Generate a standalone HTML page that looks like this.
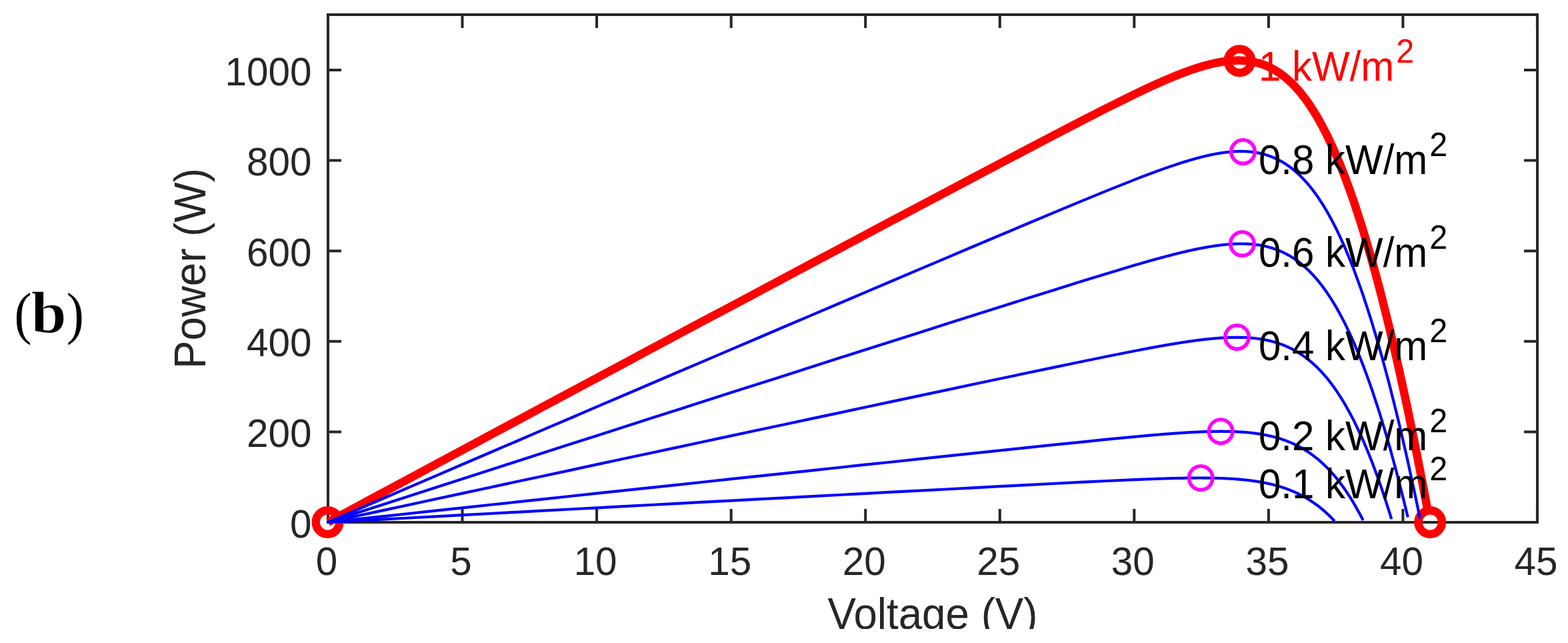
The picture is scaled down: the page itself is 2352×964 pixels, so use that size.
<!DOCTYPE html><html><head><meta charset="utf-8"><title>PV power curves</title><style>
html,body{margin:0;padding:0;background:#fff;overflow:hidden;}svg{display:block;}
.t{font-family:"Liberation Sans",Arial,Helvetica,sans-serif;}
</style></head><body>
<svg width="2352" height="964" viewBox="0 0 2352 964"><defs><clipPath id="clipb"><rect x="0" y="0" width="2352" height="943"/></clipPath></defs>
<rect x="0" y="0" width="2352" height="964" fill="#fff"/>
<g font-family="'Liberation Serif','Times New Roman',serif" fill="#000">
<text transform="translate(21.5,498.5) scale(0.9,1)" font-size="87">(</text>
<text transform="translate(46.5,498.7) scale(1.09,1)" font-size="88" font-weight="bold" stroke="#fff" stroke-width="1.1">b</text>
<text transform="translate(99.8,498.5) scale(0.9,1)" font-size="87">)</text>
</g>
<g stroke="#262626" stroke-width="4" fill="none" stroke-linecap="butt">
<path d="M492,22 L2306,22 L2306,783 L492,783 Z" stroke-linejoin="miter"/>
<path d="M492.0,783 V763 M492.0,22 V42"/>
<path d="M693.5,783 V763 M693.5,22 V42"/>
<path d="M895.1,783 V763 M895.1,22 V42"/>
<path d="M1096.7,783 V763 M1096.7,22 V42"/>
<path d="M1298.2,783 V763 M1298.2,22 V42"/>
<path d="M1499.8,783 V763 M1499.8,22 V42"/>
<path d="M1701.3,783 V763 M1701.3,22 V42"/>
<path d="M1902.9,783 V763 M1902.9,22 V42"/>
<path d="M2104.4,783 V763 M2104.4,22 V42"/>
<path d="M2305.9,783 V763 M2305.9,22 V42"/>
<path d="M492,783.0 H512 M2306,783.0 H2286"/>
<path d="M492,647.4 H512 M2306,647.4 H2286"/>
<path d="M492,511.8 H512 M2306,511.8 H2286"/>
<path d="M492,376.2 H512 M2306,376.2 H2286"/>
<path d="M492,240.6 H512 M2306,240.6 H2286"/>
<path d="M492,105.0 H512 M2306,105.0 H2286"/>
</g>
<path d="M492.0,783.0 L532.3,761.3 L572.6,739.6 L612.9,717.9 L653.2,696.3 L693.5,674.7 L733.9,653.0 L774.2,631.4 L814.5,609.8 L854.8,588.3 L895.1,566.7 L935.4,545.2 L975.7,523.6 L1016.0,502.1 L1056.3,480.6 L1096.7,459.2 L1137.0,437.7 L1177.3,416.2 L1217.6,394.8 L1257.9,373.4 L1298.2,352.0 L1338.5,330.6 L1378.8,309.3 L1419.1,287.9 L1459.4,266.6 L1499.8,245.3 L1540.1,224.1 L1580.4,203.0 L1620.7,182.1 L1661.0,161.5 L1701.3,141.6 L1709.4,137.7 L1710.2,137.3 L1711.0,137.0 L1711.7,136.6 L1712.5,136.2 L1713.3,135.8 L1714.1,135.4 L1714.9,135.1 L1715.7,134.7 L1716.5,134.3 L1717.3,134.0 L1718.1,133.6 L1718.9,133.2 L1719.7,132.8 L1720.5,132.5 L1721.3,132.1 L1722.1,131.7 L1722.9,131.4 L1723.7,131.0 L1724.4,130.6 L1725.2,130.3 L1726.0,129.9 L1726.8,129.5 L1727.6,129.2 L1728.4,128.8 L1729.2,128.4 L1730.0,128.1 L1730.8,127.7 L1731.6,127.4 L1732.4,127.0 L1733.2,126.6 L1734.0,126.3 L1734.8,125.9 L1735.6,125.6 L1736.4,125.2 L1737.2,124.9 L1737.9,124.5 L1738.7,124.2 L1739.5,123.8 L1740.3,123.5 L1741.1,123.1 L1741.9,122.8 L1742.7,122.4 L1743.5,122.1 L1744.3,121.7 L1745.1,121.4 L1745.9,121.0 L1746.7,120.7 L1747.5,120.3 L1748.3,120.0 L1749.1,119.7 L1749.9,119.3 L1750.7,119.0 L1751.4,118.6 L1752.2,118.3 L1753.0,118.0 L1753.8,117.6 L1754.6,117.3 L1755.4,117.0 L1756.2,116.6 L1757.0,116.3 L1757.8,116.0 L1758.6,115.6 L1759.4,115.3 L1760.2,115.0 L1761.0,114.7 L1761.8,114.3 L1762.6,114.0 L1763.4,113.7 L1764.2,113.4 L1764.9,113.1 L1765.7,112.7 L1766.5,112.4 L1767.3,112.1 L1768.1,111.8 L1768.9,111.5 L1769.7,111.2 L1770.5,110.9 L1771.3,110.6 L1772.1,110.3 L1772.9,109.9 L1773.7,109.6 L1774.5,109.3 L1775.3,109.0 L1776.1,108.7 L1776.9,108.4 L1777.7,108.1 L1778.4,107.9 L1779.2,107.6 L1780.0,107.3 L1780.8,107.0 L1781.6,106.7 L1782.4,106.4 L1783.2,106.1 L1784.0,105.8 L1784.8,105.6 L1785.6,105.3 L1786.4,105.0 L1787.2,104.7 L1788.0,104.5 L1788.8,104.2 L1789.6,103.9 L1790.4,103.6 L1791.2,103.4 L1791.9,103.1 L1792.7,102.8 L1793.5,102.6 L1794.3,102.3 L1795.1,102.1 L1795.9,101.8 L1796.7,101.6 L1797.5,101.3 L1798.3,101.1 L1799.1,100.8 L1799.9,100.6 L1800.7,100.3 L1801.5,100.1 L1802.3,99.9 L1803.1,99.6 L1803.9,99.4 L1804.7,99.2 L1805.4,98.9 L1806.2,98.7 L1807.0,98.5 L1807.8,98.3 L1808.6,98.0 L1809.4,97.8 L1810.2,97.6 L1811.0,97.4 L1811.8,97.2 L1812.6,97.0 L1813.4,96.8 L1814.2,96.6 L1815.0,96.4 L1815.8,96.2 L1816.6,96.0 L1817.4,95.8 L1818.2,95.6 L1818.9,95.4 L1819.7,95.2 L1820.5,95.1 L1821.3,94.9 L1822.1,94.7 L1822.9,94.5 L1823.7,94.4 L1824.5,94.2 L1825.3,94.1 L1826.1,93.9 L1826.9,93.7 L1827.7,93.6 L1828.5,93.4 L1829.3,93.3 L1830.1,93.2 L1830.9,93.0 L1831.7,92.9 L1832.4,92.8 L1833.2,92.6 L1834.0,92.5 L1834.8,92.4 L1835.6,92.3 L1836.4,92.2 L1837.2,92.0 L1838.0,91.9 L1838.8,91.8 L1839.6,91.7 L1840.4,91.6 L1841.2,91.6 L1842.0,91.5 L1842.8,91.4 L1843.6,91.3 L1844.4,91.2 L1845.2,91.2 L1845.9,91.1 L1846.7,91.0 L1847.5,91.0 L1848.3,90.9 L1849.1,90.9 L1849.9,90.8 L1850.7,90.8 L1851.5,90.8 L1852.3,90.7 L1853.1,90.7 L1853.9,90.7 L1854.7,90.7 L1855.5,90.6 L1856.3,90.6 L1857.1,90.6 L1857.9,90.6 L1858.7,90.6 L1859.4,90.6 L1860.2,90.7 L1861.0,90.7 L1861.8,90.7 L1862.6,90.7 L1863.4,90.8 L1864.2,90.8 L1865.0,90.9 L1865.8,90.9 L1866.6,91.0 L1867.4,91.0 L1868.2,91.1 L1869.0,91.2 L1869.8,91.2 L1870.6,91.3 L1871.4,91.4 L1872.1,91.5 L1872.9,91.6 L1873.7,91.7 L1874.5,91.8 L1875.3,92.0 L1876.1,92.1 L1876.9,92.2 L1877.7,92.3 L1878.5,92.5 L1879.3,92.6 L1880.1,92.8 L1880.9,93.0 L1881.7,93.1 L1882.5,93.3 L1883.3,93.5 L1884.1,93.7 L1884.9,93.9 L1885.6,94.1 L1886.4,94.3 L1887.2,94.5 L1888.0,94.7 L1888.8,94.9 L1889.6,95.2 L1890.4,95.4 L1891.2,95.7 L1892.0,95.9 L1892.8,96.2 L1893.6,96.5 L1894.4,96.7 L1895.2,97.0 L1896.0,97.3 L1896.8,97.6 L1897.6,97.9 L1898.4,98.2 L1899.1,98.6 L1899.9,98.9 L1900.7,99.2 L1901.5,99.6 L1902.3,99.9 L1903.1,100.3 L1903.9,100.7 L1904.7,101.1 L1905.5,101.4 L1906.3,101.8 L1907.1,102.2 L1907.9,102.7 L1908.7,103.1 L1909.5,103.5 L1910.3,103.9 L1911.1,104.4 L1911.9,104.8 L1912.6,105.3 L1913.4,105.8 L1914.2,106.3 L1915.0,106.8 L1915.8,107.3 L1916.6,107.8 L1917.4,108.3 L1918.2,108.8 L1919.0,109.3 L1919.8,109.9 L1920.6,110.4 L1921.4,111.0 L1922.2,111.6 L1923.0,112.2 L1923.8,112.8 L1924.6,113.4 L1925.4,114.0 L1926.1,114.6 L1926.9,115.2 L1927.7,115.9 L1928.5,116.5 L1929.3,117.2 L1930.1,117.9 L1930.9,118.5 L1931.7,119.2 L1932.5,119.9 L1933.3,120.6 L1934.1,121.4 L1934.9,122.1 L1935.7,122.8 L1936.5,123.6 L1937.3,124.4 L1938.1,125.1 L1938.9,125.9 L1939.6,126.7 L1940.4,127.5 L1941.2,128.4 L1942.0,129.2 L1942.8,130.0 L1943.6,130.9 L1944.4,131.8 L1945.2,132.6 L1946.0,133.5 L1946.8,134.4 L1947.6,135.3 L1948.4,136.2 L1949.2,137.2 L1950.0,138.1 L1950.8,139.1 L1951.6,140.0 L1952.4,141.0 L1953.1,142.0 L1953.9,143.0 L1954.7,144.0 L1955.5,145.1 L1956.3,146.1 L1957.1,147.2 L1957.9,148.2 L1958.7,149.3 L1959.5,150.4 L1960.3,151.5 L1961.1,152.6 L1961.9,153.7 L1962.7,154.9 L1963.5,156.0 L1964.3,157.2 L1965.1,158.3 L1965.9,159.5 L1966.6,160.7 L1967.4,161.9 L1968.2,163.2 L1969.0,164.4 L1969.8,165.7 L1970.6,166.9 L1971.4,168.2 L1972.2,169.5 L1973.0,170.8 L1973.8,172.1 L1974.6,173.4 L1975.4,174.8 L1976.2,176.1 L1977.0,177.5 L1977.8,178.9 L1978.6,180.3 L1979.4,181.7 L1980.1,183.1 L1980.9,184.5 L1981.7,186.0 L1982.5,187.4 L1983.3,188.9 L1984.1,190.4 L1984.9,191.9 L1985.7,193.4 L1986.5,195.0 L1987.3,196.5 L1988.1,198.1 L1988.9,199.6 L1989.7,201.2 L1990.5,202.8 L1991.3,204.4 L1992.1,206.1 L1992.9,207.7 L1993.6,209.3 L1994.4,211.0 L1995.2,212.7 L1996.0,214.4 L1996.8,216.1 L1997.6,217.8 L1998.4,219.6 L1999.2,221.3 L2000.0,223.1 L2000.8,224.9 L2001.6,226.7 L2002.4,228.5 L2003.2,230.3 L2004.0,232.1 L2004.8,234.0 L2005.6,235.8 L2006.4,237.7 L2007.1,239.6 L2007.9,241.5 L2008.7,243.4 L2009.5,245.4 L2010.3,247.3 L2011.1,249.3 L2011.9,251.3 L2012.7,253.3 L2013.5,255.3 L2014.3,257.3 L2015.1,259.3 L2015.9,261.4 L2016.7,263.5 L2017.5,265.5 L2018.3,267.6 L2019.1,269.7 L2019.8,271.9 L2020.6,274.0 L2021.4,276.2 L2022.2,278.3 L2023.0,280.5 L2023.8,282.7 L2024.6,284.9 L2025.4,287.1 L2026.2,289.4 L2027.0,291.6 L2027.8,293.9 L2028.6,296.2 L2029.4,298.5 L2030.2,300.8 L2031.0,303.1 L2031.8,305.5 L2032.6,307.8 L2033.3,310.2 L2034.1,312.6 L2034.9,315.0 L2035.7,317.4 L2036.5,319.8 L2037.3,322.3 L2038.1,324.7 L2038.9,327.2 L2039.7,329.7 L2040.5,332.2 L2041.3,334.7 L2042.1,337.3 L2042.9,339.8 L2043.7,342.4 L2044.5,344.9 L2045.3,347.5 L2046.1,350.1 L2046.8,352.8 L2047.6,355.4 L2048.4,358.0 L2049.2,360.7 L2050.0,363.4 L2050.8,366.1 L2051.6,368.8 L2052.4,371.5 L2053.2,374.2 L2054.0,377.0 L2054.8,379.8 L2055.6,382.5 L2056.4,385.3 L2057.2,388.1 L2058.0,391.0 L2058.8,393.8 L2059.6,396.7 L2060.3,399.5 L2061.1,402.4 L2061.9,405.3 L2062.7,408.2 L2063.5,411.1 L2064.3,414.1 L2065.1,417.0 L2065.9,420.0 L2066.7,423.0 L2067.5,426.0 L2068.3,429.0 L2069.1,432.0 L2069.9,435.0 L2070.7,438.1 L2071.5,441.1 L2072.3,444.2 L2073.1,447.3 L2073.8,450.4 L2074.6,453.5 L2075.4,456.7 L2076.2,459.8 L2077.0,463.0 L2077.8,466.2 L2078.6,469.4 L2079.4,472.6 L2080.2,475.8 L2081.0,479.0 L2081.8,482.3 L2082.6,485.5 L2083.4,488.8 L2084.2,492.1 L2085.0,495.4 L2085.8,498.7 L2086.6,502.1 L2087.3,505.4 L2088.1,508.8 L2088.9,512.1 L2089.7,515.5 L2090.5,518.9 L2091.3,522.3 L2092.1,525.8 L2092.9,529.2 L2093.7,532.7 L2094.5,536.1 L2095.3,539.6 L2096.1,543.1 L2096.9,546.6 L2097.7,550.2 L2098.5,553.7 L2099.3,557.3 L2100.1,560.8 L2100.8,564.4 L2101.6,568.0 L2102.4,571.6 L2103.2,575.2 L2104.0,578.8 L2104.8,582.5 L2105.6,586.2 L2106.4,589.8 L2107.2,593.5 L2108.0,597.2 L2108.8,600.9 L2109.6,604.6 L2110.4,608.4 L2111.2,612.1 L2112.0,615.9 L2112.8,619.7 L2113.6,623.5 L2114.3,627.3 L2115.1,631.1 L2115.9,634.9 L2116.7,638.8 L2117.5,642.6 L2118.3,646.5 L2119.1,650.4 L2119.9,654.3 L2120.7,658.2 L2121.5,662.1 L2122.3,666.1 L2123.1,670.0 L2123.9,674.0 L2124.7,677.9 L2125.5,681.9 L2126.3,685.9 L2127.1,689.9 L2127.8,694.0 L2128.6,698.0 L2129.4,702.0 L2130.2,706.1 L2131.0,710.2 L2131.8,714.3 L2132.6,718.4 L2133.4,722.5 L2134.2,726.6 L2135.0,730.8 L2135.8,734.9 L2136.6,739.1 L2137.4,743.3 L2138.2,747.4 L2139.0,751.6 L2139.8,755.9 L2140.6,760.1 L2141.3,764.3 L2141.5,765.0" fill="none" stroke="#ff0000" stroke-width="12.5" stroke-linejoin="round"/>
<circle cx="491.5" cy="783" r="17.75" fill="none" stroke="#ff0000" stroke-width="12.5"/>
<circle cx="1859.5" cy="91.3" r="17.75" fill="none" stroke="#ff0000" stroke-width="12.5"/>
<circle cx="2145.2" cy="783" r="17.75" fill="none" stroke="#ff0000" stroke-width="12.5"/>
<path d="M492.0,783.0 L532.3,765.6 L572.6,748.3 L612.9,730.9 L653.2,713.6 L693.5,696.3 L733.9,679.0 L774.2,661.7 L814.5,644.4 L854.8,627.2 L895.1,609.9 L935.4,592.7 L975.7,575.5 L1016.0,558.3 L1056.3,541.1 L1096.7,523.9 L1137.0,506.7 L1177.3,489.5 L1217.6,472.4 L1257.9,455.3 L1298.2,438.1 L1338.5,421.0 L1378.8,403.9 L1419.1,386.9 L1459.4,369.8 L1499.8,352.8 L1540.1,335.8 L1580.4,318.9 L1620.7,302.1 L1661.0,285.6 L1701.3,269.6 L1709.4,266.4 L1710.2,266.1 L1711.0,265.8 L1711.7,265.5 L1712.5,265.2 L1713.3,264.9 L1714.1,264.6 L1714.9,264.3 L1715.7,264.0 L1716.5,263.7 L1717.3,263.4 L1718.1,263.1 L1718.9,262.8 L1719.7,262.5 L1720.5,262.2 L1721.3,261.9 L1722.1,261.6 L1722.9,261.3 L1723.7,261.0 L1724.4,260.7 L1725.2,260.4 L1726.0,260.1 L1726.8,259.8 L1727.6,259.5 L1728.4,259.2 L1729.2,259.0 L1730.0,258.7 L1730.8,258.4 L1731.6,258.1 L1732.4,257.8 L1733.2,257.5 L1734.0,257.2 L1734.8,256.9 L1735.6,256.6 L1736.4,256.3 L1737.2,256.0 L1737.9,255.8 L1738.7,255.5 L1739.5,255.2 L1740.3,254.9 L1741.1,254.6 L1741.9,254.3 L1742.7,254.0 L1743.5,253.8 L1744.3,253.5 L1745.1,253.2 L1745.9,252.9 L1746.7,252.6 L1747.5,252.4 L1748.3,252.1 L1749.1,251.8 L1749.9,251.5 L1750.7,251.2 L1751.4,251.0 L1752.2,250.7 L1753.0,250.4 L1753.8,250.1 L1754.6,249.9 L1755.4,249.6 L1756.2,249.3 L1757.0,249.1 L1757.8,248.8 L1758.6,248.5 L1759.4,248.3 L1760.2,248.0 L1761.0,247.7 L1761.8,247.5 L1762.6,247.2 L1763.4,246.9 L1764.2,246.7 L1764.9,246.4 L1765.7,246.1 L1766.5,245.9 L1767.3,245.6 L1768.1,245.4 L1768.9,245.1 L1769.7,244.9 L1770.5,244.6 L1771.3,244.3 L1772.1,244.1 L1772.9,243.8 L1773.7,243.6 L1774.5,243.3 L1775.3,243.1 L1776.1,242.8 L1776.9,242.6 L1777.7,242.4 L1778.4,242.1 L1779.2,241.9 L1780.0,241.6 L1780.8,241.4 L1781.6,241.1 L1782.4,240.9 L1783.2,240.7 L1784.0,240.4 L1784.8,240.2 L1785.6,240.0 L1786.4,239.7 L1787.2,239.5 L1788.0,239.3 L1788.8,239.1 L1789.6,238.8 L1790.4,238.6 L1791.2,238.4 L1791.9,238.2 L1792.7,237.9 L1793.5,237.7 L1794.3,237.5 L1795.1,237.3 L1795.9,237.1 L1796.7,236.9 L1797.5,236.7 L1798.3,236.4 L1799.1,236.2 L1799.9,236.0 L1800.7,235.8 L1801.5,235.6 L1802.3,235.4 L1803.1,235.2 L1803.9,235.0 L1804.7,234.8 L1805.4,234.6 L1806.2,234.4 L1807.0,234.2 L1807.8,234.1 L1808.6,233.9 L1809.4,233.7 L1810.2,233.5 L1811.0,233.3 L1811.8,233.1 L1812.6,233.0 L1813.4,232.8 L1814.2,232.6 L1815.0,232.4 L1815.8,232.3 L1816.6,232.1 L1817.4,231.9 L1818.2,231.8 L1818.9,231.6 L1819.7,231.5 L1820.5,231.3 L1821.3,231.1 L1822.1,231.0 L1822.9,230.8 L1823.7,230.7 L1824.5,230.5 L1825.3,230.4 L1826.1,230.3 L1826.9,230.1 L1827.7,230.0 L1828.5,229.9 L1829.3,229.7 L1830.1,229.6 L1830.9,229.5 L1831.7,229.3 L1832.4,229.2 L1833.2,229.1 L1834.0,229.0 L1834.8,228.9 L1835.6,228.8 L1836.4,228.7 L1837.2,228.6 L1838.0,228.5 L1838.8,228.4 L1839.6,228.3 L1840.4,228.2 L1841.2,228.1 L1842.0,228.0 L1842.8,227.9 L1843.6,227.8 L1844.4,227.7 L1845.2,227.7 L1845.9,227.6 L1846.7,227.5 L1847.5,227.5 L1848.3,227.4 L1849.1,227.4 L1849.9,227.3 L1850.7,227.2 L1851.5,227.2 L1852.3,227.2 L1853.1,227.1 L1853.9,227.1 L1854.7,227.0 L1855.5,227.0 L1856.3,227.0 L1857.1,227.0 L1857.9,226.9 L1858.7,226.9 L1859.4,226.9 L1860.2,226.9 L1861.0,226.9 L1861.8,226.9 L1862.6,226.9 L1863.4,226.9 L1864.2,226.9 L1865.0,226.9 L1865.8,227.0 L1866.6,227.0 L1867.4,227.0 L1868.2,227.0 L1869.0,227.1 L1869.8,227.1 L1870.6,227.2 L1871.4,227.2 L1872.1,227.3 L1872.9,227.3 L1873.7,227.4 L1874.5,227.5 L1875.3,227.5 L1876.1,227.6 L1876.9,227.7 L1877.7,227.8 L1878.5,227.9 L1879.3,228.0 L1880.1,228.1 L1880.9,228.2 L1881.7,228.3 L1882.5,228.4 L1883.3,228.5 L1884.1,228.7 L1884.9,228.8 L1885.6,228.9 L1886.4,229.1 L1887.2,229.2 L1888.0,229.4 L1888.8,229.6 L1889.6,229.7 L1890.4,229.9 L1891.2,230.1 L1892.0,230.3 L1892.8,230.4 L1893.6,230.6 L1894.4,230.8 L1895.2,231.1 L1896.0,231.3 L1896.8,231.5 L1897.6,231.7 L1898.4,231.9 L1899.1,232.2 L1899.9,232.4 L1900.7,232.7 L1901.5,232.9 L1902.3,233.2 L1903.1,233.5 L1903.9,233.7 L1904.7,234.0 L1905.5,234.3 L1906.3,234.6 L1907.1,234.9 L1907.9,235.2 L1908.7,235.5 L1909.5,235.9 L1910.3,236.2 L1911.1,236.5 L1911.9,236.9 L1912.6,237.2 L1913.4,237.6 L1914.2,238.0 L1915.0,238.3 L1915.8,238.7 L1916.6,239.1 L1917.4,239.5 L1918.2,239.9 L1919.0,240.3 L1919.8,240.8 L1920.6,241.2 L1921.4,241.6 L1922.2,242.1 L1923.0,242.5 L1923.8,243.0 L1924.6,243.5 L1925.4,243.9 L1926.1,244.4 L1926.9,244.9 L1927.7,245.4 L1928.5,245.9 L1929.3,246.5 L1930.1,247.0 L1930.9,247.5 L1931.7,248.1 L1932.5,248.6 L1933.3,249.2 L1934.1,249.8 L1934.9,250.3 L1935.7,250.9 L1936.5,251.5 L1937.3,252.1 L1938.1,252.8 L1938.9,253.4 L1939.6,254.0 L1940.4,254.7 L1941.2,255.3 L1942.0,256.0 L1942.8,256.7 L1943.6,257.4 L1944.4,258.1 L1945.2,258.8 L1946.0,259.5 L1946.8,260.2 L1947.6,260.9 L1948.4,261.7 L1949.2,262.4 L1950.0,263.2 L1950.8,264.0 L1951.6,264.8 L1952.4,265.6 L1953.1,266.4 L1953.9,267.2 L1954.7,268.0 L1955.5,268.9 L1956.3,269.7 L1957.1,270.6 L1957.9,271.4 L1958.7,272.3 L1959.5,273.2 L1960.3,274.1 L1961.1,275.0 L1961.9,276.0 L1962.7,276.9 L1963.5,277.8 L1964.3,278.8 L1965.1,279.8 L1965.9,280.8 L1966.6,281.8 L1967.4,282.8 L1968.2,283.8 L1969.0,284.8 L1969.8,285.8 L1970.6,286.9 L1971.4,288.0 L1972.2,289.0 L1973.0,290.1 L1973.8,291.2 L1974.6,292.3 L1975.4,293.5 L1976.2,294.6 L1977.0,295.7 L1977.8,296.9 L1978.6,298.1 L1979.4,299.3 L1980.1,300.5 L1980.9,301.7 L1981.7,302.9 L1982.5,304.1 L1983.3,305.4 L1984.1,306.6 L1984.9,307.9 L1985.7,309.2 L1986.5,310.5 L1987.3,311.8 L1988.1,313.1 L1988.9,314.5 L1989.7,315.8 L1990.5,317.2 L1991.3,318.6 L1992.1,320.0 L1992.9,321.4 L1993.6,322.8 L1994.4,324.2 L1995.2,325.6 L1996.0,327.1 L1996.8,328.6 L1997.6,330.0 L1998.4,331.5 L1999.2,333.1 L2000.0,334.6 L2000.8,336.1 L2001.6,337.7 L2002.4,339.2 L2003.2,340.8 L2004.0,342.4 L2004.8,344.0 L2005.6,345.6 L2006.4,347.2 L2007.1,348.9 L2007.9,350.5 L2008.7,352.2 L2009.5,353.9 L2010.3,355.6 L2011.1,357.3 L2011.9,359.1 L2012.7,360.8 L2013.5,362.6 L2014.3,364.3 L2015.1,366.1 L2015.9,367.9 L2016.7,369.7 L2017.5,371.6 L2018.3,373.4 L2019.1,375.3 L2019.8,377.1 L2020.6,379.0 L2021.4,380.9 L2022.2,382.8 L2023.0,384.7 L2023.8,386.7 L2024.6,388.6 L2025.4,390.6 L2026.2,392.6 L2027.0,394.6 L2027.8,396.6 L2028.6,398.6 L2029.4,400.7 L2030.2,402.7 L2031.0,404.8 L2031.8,406.9 L2032.6,409.0 L2033.3,411.1 L2034.1,413.3 L2034.9,415.4 L2035.7,417.6 L2036.5,419.7 L2037.3,421.9 L2038.1,424.1 L2038.9,426.3 L2039.7,428.6 L2040.5,430.8 L2041.3,433.1 L2042.1,435.4 L2042.9,437.7 L2043.7,440.0 L2044.5,442.3 L2045.3,444.6 L2046.1,447.0 L2046.8,449.3 L2047.6,451.7 L2048.4,454.1 L2049.2,456.5 L2050.0,458.9 L2050.8,461.4 L2051.6,463.8 L2052.4,466.3 L2053.2,468.8 L2054.0,471.3 L2054.8,473.8 L2055.6,476.3 L2056.4,478.9 L2057.2,481.4 L2058.0,484.0 L2058.8,486.6 L2059.6,489.2 L2060.3,491.8 L2061.1,494.4 L2061.9,497.1 L2062.7,499.7 L2063.5,502.4 L2064.3,505.1 L2065.1,507.8 L2065.9,510.5 L2066.7,513.3 L2067.5,516.0 L2068.3,518.8 L2069.1,521.6 L2069.9,524.3 L2070.7,527.1 L2071.5,530.0 L2072.3,532.8 L2073.1,535.7 L2073.8,538.5 L2074.6,541.4 L2075.4,544.3 L2076.2,547.2 L2077.0,550.1 L2077.8,553.1 L2078.6,556.0 L2079.4,559.0 L2080.2,562.0 L2081.0,565.0 L2081.8,568.0 L2082.6,571.0 L2083.4,574.0 L2084.2,577.1 L2085.0,580.2 L2085.8,583.3 L2086.6,586.4 L2087.3,589.5 L2088.1,592.6 L2088.9,595.7 L2089.7,598.9 L2090.5,602.1 L2091.3,605.2 L2092.1,608.4 L2092.9,611.7 L2093.7,614.9 L2094.5,618.1 L2095.3,621.4 L2096.1,624.7 L2096.9,627.9 L2097.7,631.2 L2098.5,634.5 L2099.3,637.9 L2100.1,641.2 L2100.8,644.6 L2101.6,647.9 L2102.4,651.3 L2103.2,654.7 L2104.0,658.1 L2104.8,661.6 L2105.6,665.0 L2106.4,668.5 L2107.2,671.9 L2108.0,675.4 L2108.8,678.9 L2109.6,682.4 L2110.4,685.9 L2111.2,689.5 L2112.0,693.0 L2112.8,696.6 L2113.6,700.2 L2114.3,703.8 L2115.1,707.4 L2115.9,711.0 L2116.7,714.6 L2117.5,718.3 L2118.3,721.9 L2119.1,725.6 L2119.9,729.3 L2120.7,733.0 L2121.5,736.7 L2122.3,740.4 L2123.1,744.2 L2123.9,747.9 L2124.7,751.7 L2125.5,755.5 L2126.3,759.3 L2127.1,763.1 L2127.8,766.9 L2128.6,770.8 L2129.4,774.6 L2130.0,777.3" fill="none" stroke="#0000ff" stroke-width="4.2" stroke-linejoin="round"/>
<path d="M492.0,783.0 L532.3,770.0 L572.6,757.0 L612.9,744.0 L653.2,731.0 L693.5,718.0 L733.9,705.0 L774.2,692.0 L814.5,679.1 L854.8,666.1 L895.1,653.2 L935.4,640.2 L975.7,627.3 L1016.0,614.4 L1056.3,601.5 L1096.7,588.6 L1137.0,575.7 L1177.3,562.9 L1217.6,550.0 L1257.9,537.1 L1298.2,524.3 L1338.5,511.5 L1378.8,498.7 L1419.1,485.8 L1459.4,473.0 L1499.8,460.3 L1540.1,447.5 L1580.4,434.9 L1620.7,422.3 L1661.0,409.9 L1701.3,397.8 L1709.4,395.5 L1710.2,395.2 L1711.0,395.0 L1711.7,394.8 L1712.5,394.5 L1713.3,394.3 L1714.1,394.1 L1714.9,393.9 L1715.7,393.6 L1716.5,393.4 L1717.3,393.2 L1718.1,393.0 L1718.9,392.7 L1719.7,392.5 L1720.5,392.3 L1721.3,392.0 L1722.1,391.8 L1722.9,391.6 L1723.7,391.4 L1724.4,391.2 L1725.2,390.9 L1726.0,390.7 L1726.8,390.5 L1727.6,390.3 L1728.4,390.0 L1729.2,389.8 L1730.0,389.6 L1730.8,389.4 L1731.6,389.2 L1732.4,388.9 L1733.2,388.7 L1734.0,388.5 L1734.8,388.3 L1735.6,388.1 L1736.4,387.8 L1737.2,387.6 L1737.9,387.4 L1738.7,387.2 L1739.5,387.0 L1740.3,386.8 L1741.1,386.5 L1741.9,386.3 L1742.7,386.1 L1743.5,385.9 L1744.3,385.7 L1745.1,385.5 L1745.9,385.3 L1746.7,385.1 L1747.5,384.8 L1748.3,384.6 L1749.1,384.4 L1749.9,384.2 L1750.7,384.0 L1751.4,383.8 L1752.2,383.6 L1753.0,383.4 L1753.8,383.2 L1754.6,383.0 L1755.4,382.8 L1756.2,382.6 L1757.0,382.4 L1757.8,382.2 L1758.6,382.0 L1759.4,381.7 L1760.2,381.5 L1761.0,381.3 L1761.8,381.1 L1762.6,380.9 L1763.4,380.7 L1764.2,380.5 L1764.9,380.3 L1765.7,380.2 L1766.5,380.0 L1767.3,379.8 L1768.1,379.6 L1768.9,379.4 L1769.7,379.2 L1770.5,379.0 L1771.3,378.8 L1772.1,378.6 L1772.9,378.4 L1773.7,378.2 L1774.5,378.0 L1775.3,377.8 L1776.1,377.7 L1776.9,377.5 L1777.7,377.3 L1778.4,377.1 L1779.2,376.9 L1780.0,376.7 L1780.8,376.6 L1781.6,376.4 L1782.4,376.2 L1783.2,376.0 L1784.0,375.8 L1784.8,375.7 L1785.6,375.5 L1786.4,375.3 L1787.2,375.1 L1788.0,375.0 L1788.8,374.8 L1789.6,374.6 L1790.4,374.4 L1791.2,374.3 L1791.9,374.1 L1792.7,373.9 L1793.5,373.8 L1794.3,373.6 L1795.1,373.4 L1795.9,373.3 L1796.7,373.1 L1797.5,373.0 L1798.3,372.8 L1799.1,372.6 L1799.9,372.5 L1800.7,372.3 L1801.5,372.2 L1802.3,372.0 L1803.1,371.9 L1803.9,371.7 L1804.7,371.6 L1805.4,371.4 L1806.2,371.3 L1807.0,371.1 L1807.8,371.0 L1808.6,370.8 L1809.4,370.7 L1810.2,370.6 L1811.0,370.4 L1811.8,370.3 L1812.6,370.1 L1813.4,370.0 L1814.2,369.9 L1815.0,369.8 L1815.8,369.6 L1816.6,369.5 L1817.4,369.4 L1818.2,369.2 L1818.9,369.1 L1819.7,369.0 L1820.5,368.9 L1821.3,368.8 L1822.1,368.6 L1822.9,368.5 L1823.7,368.4 L1824.5,368.3 L1825.3,368.2 L1826.1,368.1 L1826.9,368.0 L1827.7,367.9 L1828.5,367.8 L1829.3,367.7 L1830.1,367.6 L1830.9,367.5 L1831.7,367.4 L1832.4,367.3 L1833.2,367.2 L1834.0,367.1 L1834.8,367.0 L1835.6,366.9 L1836.4,366.8 L1837.2,366.8 L1838.0,366.7 L1838.8,366.6 L1839.6,366.5 L1840.4,366.5 L1841.2,366.4 L1842.0,366.3 L1842.8,366.3 L1843.6,366.2 L1844.4,366.1 L1845.2,366.1 L1845.9,366.0 L1846.7,366.0 L1847.5,365.9 L1848.3,365.9 L1849.1,365.8 L1849.9,365.8 L1850.7,365.7 L1851.5,365.7 L1852.3,365.7 L1853.1,365.6 L1853.9,365.6 L1854.7,365.6 L1855.5,365.6 L1856.3,365.5 L1857.1,365.5 L1857.9,365.5 L1858.7,365.5 L1859.4,365.5 L1860.2,365.5 L1861.0,365.5 L1861.8,365.5 L1862.6,365.5 L1863.4,365.5 L1864.2,365.5 L1865.0,365.5 L1865.8,365.5 L1866.6,365.5 L1867.4,365.5 L1868.2,365.6 L1869.0,365.6 L1869.8,365.6 L1870.6,365.7 L1871.4,365.7 L1872.1,365.7 L1872.9,365.8 L1873.7,365.8 L1874.5,365.9 L1875.3,365.9 L1876.1,366.0 L1876.9,366.1 L1877.7,366.1 L1878.5,366.2 L1879.3,366.3 L1880.1,366.3 L1880.9,366.4 L1881.7,366.5 L1882.5,366.6 L1883.3,366.7 L1884.1,366.8 L1884.9,366.9 L1885.6,367.0 L1886.4,367.1 L1887.2,367.2 L1888.0,367.3 L1888.8,367.5 L1889.6,367.6 L1890.4,367.7 L1891.2,367.9 L1892.0,368.0 L1892.8,368.2 L1893.6,368.3 L1894.4,368.5 L1895.2,368.6 L1896.0,368.8 L1896.8,369.0 L1897.6,369.1 L1898.4,369.3 L1899.1,369.5 L1899.9,369.7 L1900.7,369.9 L1901.5,370.1 L1902.3,370.3 L1903.1,370.5 L1903.9,370.7 L1904.7,370.9 L1905.5,371.2 L1906.3,371.4 L1907.1,371.6 L1907.9,371.9 L1908.7,372.1 L1909.5,372.4 L1910.3,372.6 L1911.1,372.9 L1911.9,373.2 L1912.6,373.4 L1913.4,373.7 L1914.2,374.0 L1915.0,374.3 L1915.8,374.6 L1916.6,374.9 L1917.4,375.2 L1918.2,375.5 L1919.0,375.9 L1919.8,376.2 L1920.6,376.5 L1921.4,376.9 L1922.2,377.2 L1923.0,377.6 L1923.8,378.0 L1924.6,378.3 L1925.4,378.7 L1926.1,379.1 L1926.9,379.5 L1927.7,379.9 L1928.5,380.3 L1929.3,380.7 L1930.1,381.1 L1930.9,381.6 L1931.7,382.0 L1932.5,382.4 L1933.3,382.9 L1934.1,383.3 L1934.9,383.8 L1935.7,384.3 L1936.5,384.8 L1937.3,385.2 L1938.1,385.7 L1938.9,386.2 L1939.6,386.8 L1940.4,387.3 L1941.2,387.8 L1942.0,388.3 L1942.8,388.9 L1943.6,389.4 L1944.4,390.0 L1945.2,390.6 L1946.0,391.1 L1946.8,391.7 L1947.6,392.3 L1948.4,392.9 L1949.2,393.5 L1950.0,394.1 L1950.8,394.8 L1951.6,395.4 L1952.4,396.1 L1953.1,396.7 L1953.9,397.4 L1954.7,398.0 L1955.5,398.7 L1956.3,399.4 L1957.1,400.1 L1957.9,400.8 L1958.7,401.5 L1959.5,402.3 L1960.3,403.0 L1961.1,403.8 L1961.9,404.5 L1962.7,405.3 L1963.5,406.1 L1964.3,406.9 L1965.1,407.6 L1965.9,408.5 L1966.6,409.3 L1967.4,410.1 L1968.2,410.9 L1969.0,411.8 L1969.8,412.6 L1970.6,413.5 L1971.4,414.4 L1972.2,415.3 L1973.0,416.2 L1973.8,417.1 L1974.6,418.0 L1975.4,418.9 L1976.2,419.9 L1977.0,420.8 L1977.8,421.8 L1978.6,422.8 L1979.4,423.8 L1980.1,424.8 L1980.9,425.8 L1981.7,426.8 L1982.5,427.8 L1983.3,428.9 L1984.1,429.9 L1984.9,431.0 L1985.7,432.1 L1986.5,433.1 L1987.3,434.2 L1988.1,435.4 L1988.9,436.5 L1989.7,437.6 L1990.5,438.8 L1991.3,439.9 L1992.1,441.1 L1992.9,442.3 L1993.6,443.5 L1994.4,444.7 L1995.2,445.9 L1996.0,447.1 L1996.8,448.4 L1997.6,449.6 L1998.4,450.9 L1999.2,452.2 L2000.0,453.5 L2000.8,454.8 L2001.6,456.1 L2002.4,457.4 L2003.2,458.8 L2004.0,460.1 L2004.8,461.5 L2005.6,462.9 L2006.4,464.3 L2007.1,465.7 L2007.9,467.1 L2008.7,468.5 L2009.5,470.0 L2010.3,471.5 L2011.1,472.9 L2011.9,474.4 L2012.7,475.9 L2013.5,477.4 L2014.3,479.0 L2015.1,480.5 L2015.9,482.1 L2016.7,483.6 L2017.5,485.2 L2018.3,486.8 L2019.1,488.4 L2019.8,490.0 L2020.6,491.7 L2021.4,493.3 L2022.2,495.0 L2023.0,496.6 L2023.8,498.3 L2024.6,500.0 L2025.4,501.8 L2026.2,503.5 L2027.0,505.2 L2027.8,507.0 L2028.6,508.8 L2029.4,510.6 L2030.2,512.4 L2031.0,514.2 L2031.8,516.0 L2032.6,517.9 L2033.3,519.7 L2034.1,521.6 L2034.9,523.5 L2035.7,525.4 L2036.5,527.3 L2037.3,529.2 L2038.1,531.2 L2038.9,533.1 L2039.7,535.1 L2040.5,537.1 L2041.3,539.1 L2042.1,541.1 L2042.9,543.1 L2043.7,545.2 L2044.5,547.2 L2045.3,549.3 L2046.1,551.4 L2046.8,553.5 L2047.6,555.6 L2048.4,557.8 L2049.2,559.9 L2050.0,562.1 L2050.8,564.3 L2051.6,566.4 L2052.4,568.6 L2053.2,570.9 L2054.0,573.1 L2054.8,575.4 L2055.6,577.6 L2056.4,579.9 L2057.2,582.2 L2058.0,584.5 L2058.8,586.8 L2059.6,589.2 L2060.3,591.5 L2061.1,593.9 L2061.9,596.3 L2062.7,598.7 L2063.5,601.1 L2064.3,603.5 L2065.1,606.0 L2065.9,608.4 L2066.7,610.9 L2067.5,613.4 L2068.3,615.9 L2069.1,618.4 L2069.9,620.9 L2070.7,623.5 L2071.5,626.1 L2072.3,628.6 L2073.1,631.2 L2073.8,633.8 L2074.6,636.5 L2075.4,639.1 L2076.2,641.7 L2077.0,644.4 L2077.8,647.1 L2078.6,649.8 L2079.4,652.5 L2080.2,655.2 L2081.0,658.0 L2081.8,660.7 L2082.6,663.5 L2083.4,666.3 L2084.2,669.1 L2085.0,671.9 L2085.8,674.7 L2086.6,677.6 L2087.3,680.4 L2088.1,683.3 L2088.9,686.2 L2089.7,689.1 L2090.5,692.0 L2091.3,695.0 L2092.1,697.9 L2092.9,700.9 L2093.7,703.9 L2094.5,706.8 L2095.3,709.9 L2096.1,712.9 L2096.9,715.9 L2097.7,719.0 L2098.5,722.0 L2099.3,725.1 L2100.1,728.2 L2100.8,731.3 L2101.6,734.5 L2102.4,737.6 L2103.2,740.7 L2104.0,743.9 L2104.8,747.1 L2105.6,750.3 L2106.4,753.5 L2107.2,756.7 L2108.0,760.0 L2108.8,763.2 L2109.6,766.5 L2110.4,769.8 L2111.2,773.1 L2111.7,775.4" fill="none" stroke="#0000ff" stroke-width="4.2" stroke-linejoin="round"/>
<path d="M492.0,783.0 L532.3,774.3 L572.6,765.6 L612.9,757.0 L653.2,748.3 L693.5,739.6 L733.9,731.0 L774.2,722.3 L814.5,713.7 L854.8,705.1 L895.1,696.4 L935.4,687.8 L975.7,679.2 L1016.0,670.6 L1056.3,662.0 L1096.7,653.4 L1137.0,644.8 L1177.3,636.2 L1217.6,627.6 L1257.9,619.1 L1298.2,610.5 L1338.5,601.9 L1378.8,593.4 L1419.1,584.9 L1459.4,576.3 L1499.8,567.8 L1540.1,559.3 L1580.4,550.9 L1620.7,542.5 L1661.0,534.2 L1701.3,526.2 L1709.4,524.7 L1710.2,524.5 L1711.0,524.4 L1711.7,524.2 L1712.5,524.1 L1713.3,523.9 L1714.1,523.8 L1714.9,523.6 L1715.7,523.5 L1716.5,523.3 L1717.3,523.2 L1718.1,523.0 L1718.9,522.9 L1719.7,522.7 L1720.5,522.6 L1721.3,522.4 L1722.1,522.3 L1722.9,522.1 L1723.7,522.0 L1724.4,521.8 L1725.2,521.7 L1726.0,521.5 L1726.8,521.4 L1727.6,521.3 L1728.4,521.1 L1729.2,521.0 L1730.0,520.8 L1730.8,520.7 L1731.6,520.5 L1732.4,520.4 L1733.2,520.2 L1734.0,520.1 L1734.8,519.9 L1735.6,519.8 L1736.4,519.7 L1737.2,519.5 L1737.9,519.4 L1738.7,519.2 L1739.5,519.1 L1740.3,518.9 L1741.1,518.8 L1741.9,518.7 L1742.7,518.5 L1743.5,518.4 L1744.3,518.2 L1745.1,518.1 L1745.9,518.0 L1746.7,517.8 L1747.5,517.7 L1748.3,517.6 L1749.1,517.4 L1749.9,517.3 L1750.7,517.1 L1751.4,517.0 L1752.2,516.9 L1753.0,516.7 L1753.8,516.6 L1754.6,516.5 L1755.4,516.3 L1756.2,516.2 L1757.0,516.1 L1757.8,515.9 L1758.6,515.8 L1759.4,515.7 L1760.2,515.5 L1761.0,515.4 L1761.8,515.3 L1762.6,515.1 L1763.4,515.0 L1764.2,514.9 L1764.9,514.8 L1765.7,514.6 L1766.5,514.5 L1767.3,514.4 L1768.1,514.2 L1768.9,514.1 L1769.7,514.0 L1770.5,513.9 L1771.3,513.7 L1772.1,513.6 L1772.9,513.5 L1773.7,513.4 L1774.5,513.3 L1775.3,513.1 L1776.1,513.0 L1776.9,512.9 L1777.7,512.8 L1778.4,512.7 L1779.2,512.5 L1780.0,512.4 L1780.8,512.3 L1781.6,512.2 L1782.4,512.1 L1783.2,511.9 L1784.0,511.8 L1784.8,511.7 L1785.6,511.6 L1786.4,511.5 L1787.2,511.4 L1788.0,511.3 L1788.8,511.2 L1789.6,511.1 L1790.4,510.9 L1791.2,510.8 L1791.9,510.7 L1792.7,510.6 L1793.5,510.5 L1794.3,510.4 L1795.1,510.3 L1795.9,510.2 L1796.7,510.1 L1797.5,510.0 L1798.3,509.9 L1799.1,509.8 L1799.9,509.7 L1800.7,509.6 L1801.5,509.5 L1802.3,509.4 L1803.1,509.3 L1803.9,509.2 L1804.7,509.1 L1805.4,509.0 L1806.2,508.9 L1807.0,508.9 L1807.8,508.8 L1808.6,508.7 L1809.4,508.6 L1810.2,508.5 L1811.0,508.4 L1811.8,508.3 L1812.6,508.3 L1813.4,508.2 L1814.2,508.1 L1815.0,508.0 L1815.8,507.9 L1816.6,507.9 L1817.4,507.8 L1818.2,507.7 L1818.9,507.6 L1819.7,507.6 L1820.5,507.5 L1821.3,507.4 L1822.1,507.3 L1822.9,507.3 L1823.7,507.2 L1824.5,507.1 L1825.3,507.1 L1826.1,507.0 L1826.9,507.0 L1827.7,506.9 L1828.5,506.8 L1829.3,506.8 L1830.1,506.7 L1830.9,506.7 L1831.7,506.6 L1832.4,506.6 L1833.2,506.5 L1834.0,506.5 L1834.8,506.4 L1835.6,506.4 L1836.4,506.3 L1837.2,506.3 L1838.0,506.2 L1838.8,506.2 L1839.6,506.2 L1840.4,506.1 L1841.2,506.1 L1842.0,506.1 L1842.8,506.0 L1843.6,506.0 L1844.4,506.0 L1845.2,505.9 L1845.9,505.9 L1846.7,505.9 L1847.5,505.9 L1848.3,505.9 L1849.1,505.8 L1849.9,505.8 L1850.7,505.8 L1851.5,505.8 L1852.3,505.8 L1853.1,505.8 L1853.9,505.8 L1854.7,505.8 L1855.5,505.8 L1856.3,505.8 L1857.1,505.8 L1857.9,505.8 L1858.7,505.8 L1859.4,505.8 L1860.2,505.8 L1861.0,505.8 L1861.8,505.9 L1862.6,505.9 L1863.4,505.9 L1864.2,505.9 L1865.0,505.9 L1865.8,506.0 L1866.6,506.0 L1867.4,506.0 L1868.2,506.1 L1869.0,506.1 L1869.8,506.2 L1870.6,506.2 L1871.4,506.2 L1872.1,506.3 L1872.9,506.3 L1873.7,506.4 L1874.5,506.5 L1875.3,506.5 L1876.1,506.6 L1876.9,506.6 L1877.7,506.7 L1878.5,506.8 L1879.3,506.9 L1880.1,506.9 L1880.9,507.0 L1881.7,507.1 L1882.5,507.2 L1883.3,507.3 L1884.1,507.4 L1884.9,507.5 L1885.6,507.6 L1886.4,507.7 L1887.2,507.8 L1888.0,507.9 L1888.8,508.0 L1889.6,508.1 L1890.4,508.2 L1891.2,508.4 L1892.0,508.5 L1892.8,508.6 L1893.6,508.7 L1894.4,508.9 L1895.2,509.0 L1896.0,509.2 L1896.8,509.3 L1897.6,509.5 L1898.4,509.6 L1899.1,509.8 L1899.9,509.9 L1900.7,510.1 L1901.5,510.3 L1902.3,510.4 L1903.1,510.6 L1903.9,510.8 L1904.7,511.0 L1905.5,511.2 L1906.3,511.4 L1907.1,511.6 L1907.9,511.8 L1908.7,512.0 L1909.5,512.2 L1910.3,512.4 L1911.1,512.7 L1911.9,512.9 L1912.6,513.1 L1913.4,513.3 L1914.2,513.6 L1915.0,513.8 L1915.8,514.1 L1916.6,514.3 L1917.4,514.6 L1918.2,514.9 L1919.0,515.1 L1919.8,515.4 L1920.6,515.7 L1921.4,516.0 L1922.2,516.3 L1923.0,516.6 L1923.8,516.9 L1924.6,517.2 L1925.4,517.5 L1926.1,517.8 L1926.9,518.1 L1927.7,518.4 L1928.5,518.8 L1929.3,519.1 L1930.1,519.5 L1930.9,519.8 L1931.7,520.2 L1932.5,520.5 L1933.3,520.9 L1934.1,521.3 L1934.9,521.7 L1935.7,522.0 L1936.5,522.4 L1937.3,522.8 L1938.1,523.2 L1938.9,523.7 L1939.6,524.1 L1940.4,524.5 L1941.2,524.9 L1942.0,525.4 L1942.8,525.8 L1943.6,526.3 L1944.4,526.7 L1945.2,527.2 L1946.0,527.7 L1946.8,528.1 L1947.6,528.6 L1948.4,529.1 L1949.2,529.6 L1950.0,530.1 L1950.8,530.6 L1951.6,531.2 L1952.4,531.7 L1953.1,532.2 L1953.9,532.8 L1954.7,533.3 L1955.5,533.9 L1956.3,534.5 L1957.1,535.0 L1957.9,535.6 L1958.7,536.2 L1959.5,536.8 L1960.3,537.4 L1961.1,538.0 L1961.9,538.6 L1962.7,539.3 L1963.5,539.9 L1964.3,540.6 L1965.1,541.2 L1965.9,541.9 L1966.6,542.5 L1967.4,543.2 L1968.2,543.9 L1969.0,544.6 L1969.8,545.3 L1970.6,546.0 L1971.4,546.8 L1972.2,547.5 L1973.0,548.2 L1973.8,549.0 L1974.6,549.8 L1975.4,550.5 L1976.2,551.3 L1977.0,552.1 L1977.8,552.9 L1978.6,553.7 L1979.4,554.5 L1980.1,555.3 L1980.9,556.2 L1981.7,557.0 L1982.5,557.9 L1983.3,558.8 L1984.1,559.6 L1984.9,560.5 L1985.7,561.4 L1986.5,562.3 L1987.3,563.2 L1988.1,564.2 L1988.9,565.1 L1989.7,566.0 L1990.5,567.0 L1991.3,568.0 L1992.1,569.0 L1992.9,569.9 L1993.6,570.9 L1994.4,572.0 L1995.2,573.0 L1996.0,574.0 L1996.8,575.0 L1997.6,576.1 L1998.4,577.2 L1999.2,578.2 L2000.0,579.3 L2000.8,580.4 L2001.6,581.5 L2002.4,582.7 L2003.2,583.8 L2004.0,584.9 L2004.8,586.1 L2005.6,587.3 L2006.4,588.4 L2007.1,589.6 L2007.9,590.8 L2008.7,592.1 L2009.5,593.3 L2010.3,594.5 L2011.1,595.8 L2011.9,597.0 L2012.7,598.3 L2013.5,599.6 L2014.3,600.9 L2015.1,602.2 L2015.9,603.5 L2016.7,604.9 L2017.5,606.2 L2018.3,607.6 L2019.1,609.0 L2019.8,610.3 L2020.6,611.7 L2021.4,613.2 L2022.2,614.6 L2023.0,616.0 L2023.8,617.5 L2024.6,618.9 L2025.4,620.4 L2026.2,621.9 L2027.0,623.4 L2027.8,624.9 L2028.6,626.4 L2029.4,628.0 L2030.2,629.5 L2031.0,631.1 L2031.8,632.7 L2032.6,634.3 L2033.3,635.9 L2034.1,637.5 L2034.9,639.2 L2035.7,640.8 L2036.5,642.5 L2037.3,644.1 L2038.1,645.8 L2038.9,647.5 L2039.7,649.3 L2040.5,651.0 L2041.3,652.7 L2042.1,654.5 L2042.9,656.3 L2043.7,658.1 L2044.5,659.9 L2045.3,661.7 L2046.1,663.5 L2046.8,665.3 L2047.6,667.2 L2048.4,669.1 L2049.2,671.0 L2050.0,672.9 L2050.8,674.8 L2051.6,676.7 L2052.4,678.6 L2053.2,680.6 L2054.0,682.6 L2054.8,684.6 L2055.6,686.6 L2056.4,688.6 L2057.2,690.6 L2058.0,692.6 L2058.8,694.7 L2059.6,696.8 L2060.3,698.9 L2061.1,701.0 L2061.9,703.1 L2062.7,705.2 L2063.5,707.4 L2064.3,709.5 L2065.1,711.7 L2065.9,713.9 L2066.7,716.1 L2067.5,718.3 L2068.3,720.5 L2069.1,722.8 L2069.9,725.1 L2070.7,727.3 L2071.5,729.6 L2072.3,731.9 L2073.1,734.3 L2073.8,736.6 L2074.6,739.0 L2075.4,741.3 L2076.2,743.7 L2077.0,746.1 L2077.8,748.5 L2078.6,750.9 L2079.4,753.4 L2080.2,755.8 L2081.0,758.3 L2081.8,760.8 L2082.6,763.3 L2083.4,765.8 L2084.2,768.4 L2085.0,770.9 L2085.8,773.5 L2086.6,776.0 L2087.2,778.3" fill="none" stroke="#0000ff" stroke-width="4.2" stroke-linejoin="round"/>
<path d="M492.0,783.0 L532.3,778.7 L572.6,774.3 L612.9,770.0 L653.2,765.6 L693.5,761.3 L733.9,757.0 L774.2,752.7 L814.5,748.3 L854.8,744.0 L895.1,739.7 L935.4,735.4 L975.7,731.1 L1016.0,726.8 L1056.3,722.5 L1096.7,718.2 L1137.0,713.9 L1177.3,709.6 L1217.6,705.3 L1257.9,701.0 L1298.2,696.7 L1338.5,692.5 L1378.8,688.2 L1419.1,683.9 L1459.4,679.6 L1499.8,675.4 L1540.1,671.2 L1580.4,666.9 L1620.7,662.8 L1661.0,658.7 L1701.3,654.8 L1709.4,654.1 L1710.2,654.0 L1711.0,653.9 L1711.7,653.9 L1712.5,653.8 L1713.3,653.7 L1714.1,653.6 L1714.9,653.6 L1715.7,653.5 L1716.5,653.4 L1717.3,653.4 L1718.1,653.3 L1718.9,653.2 L1719.7,653.1 L1720.5,653.1 L1721.3,653.0 L1722.1,652.9 L1722.9,652.9 L1723.7,652.8 L1724.4,652.7 L1725.2,652.7 L1726.0,652.6 L1726.8,652.5 L1727.6,652.5 L1728.4,652.4 L1729.2,652.3 L1730.0,652.2 L1730.8,652.2 L1731.6,652.1 L1732.4,652.0 L1733.2,652.0 L1734.0,651.9 L1734.8,651.8 L1735.6,651.8 L1736.4,651.7 L1737.2,651.6 L1737.9,651.6 L1738.7,651.5 L1739.5,651.4 L1740.3,651.4 L1741.1,651.3 L1741.9,651.3 L1742.7,651.2 L1743.5,651.1 L1744.3,651.1 L1745.1,651.0 L1745.9,650.9 L1746.7,650.9 L1747.5,650.8 L1748.3,650.7 L1749.1,650.7 L1749.9,650.6 L1750.7,650.6 L1751.4,650.5 L1752.2,650.4 L1753.0,650.4 L1753.8,650.3 L1754.6,650.3 L1755.4,650.2 L1756.2,650.1 L1757.0,650.1 L1757.8,650.0 L1758.6,650.0 L1759.4,649.9 L1760.2,649.8 L1761.0,649.8 L1761.8,649.7 L1762.6,649.7 L1763.4,649.6 L1764.2,649.6 L1764.9,649.5 L1765.7,649.4 L1766.5,649.4 L1767.3,649.3 L1768.1,649.3 L1768.9,649.2 L1769.7,649.2 L1770.5,649.1 L1771.3,649.1 L1772.1,649.0 L1772.9,649.0 L1773.7,648.9 L1774.5,648.9 L1775.3,648.8 L1776.1,648.8 L1776.9,648.7 L1777.7,648.7 L1778.4,648.6 L1779.2,648.6 L1780.0,648.5 L1780.8,648.5 L1781.6,648.4 L1782.4,648.4 L1783.2,648.3 L1784.0,648.3 L1784.8,648.2 L1785.6,648.2 L1786.4,648.2 L1787.2,648.1 L1788.0,648.1 L1788.8,648.0 L1789.6,648.0 L1790.4,647.9 L1791.2,647.9 L1791.9,647.9 L1792.7,647.8 L1793.5,647.8 L1794.3,647.7 L1795.1,647.7 L1795.9,647.7 L1796.7,647.6 L1797.5,647.6 L1798.3,647.6 L1799.1,647.5 L1799.9,647.5 L1800.7,647.5 L1801.5,647.4 L1802.3,647.4 L1803.1,647.4 L1803.9,647.3 L1804.7,647.3 L1805.4,647.3 L1806.2,647.2 L1807.0,647.2 L1807.8,647.2 L1808.6,647.2 L1809.4,647.1 L1810.2,647.1 L1811.0,647.1 L1811.8,647.1 L1812.6,647.0 L1813.4,647.0 L1814.2,647.0 L1815.0,647.0 L1815.8,646.9 L1816.6,646.9 L1817.4,646.9 L1818.2,646.9 L1818.9,646.9 L1819.7,646.9 L1820.5,646.8 L1821.3,646.8 L1822.1,646.8 L1822.9,646.8 L1823.7,646.8 L1824.5,646.8 L1825.3,646.8 L1826.1,646.8 L1826.9,646.8 L1827.7,646.8 L1828.5,646.8 L1829.3,646.8 L1830.1,646.7 L1830.9,646.7 L1831.7,646.7 L1832.4,646.7 L1833.2,646.7 L1834.0,646.8 L1834.8,646.8 L1835.6,646.8 L1836.4,646.8 L1837.2,646.8 L1838.0,646.8 L1838.8,646.8 L1839.6,646.8 L1840.4,646.8 L1841.2,646.8 L1842.0,646.8 L1842.8,646.9 L1843.6,646.9 L1844.4,646.9 L1845.2,646.9 L1845.9,646.9 L1846.7,647.0 L1847.5,647.0 L1848.3,647.0 L1849.1,647.0 L1849.9,647.1 L1850.7,647.1 L1851.5,647.1 L1852.3,647.1 L1853.1,647.2 L1853.9,647.2 L1854.7,647.2 L1855.5,647.3 L1856.3,647.3 L1857.1,647.4 L1857.9,647.4 L1858.7,647.5 L1859.4,647.5 L1860.2,647.5 L1861.0,647.6 L1861.8,647.6 L1862.6,647.7 L1863.4,647.8 L1864.2,647.8 L1865.0,647.9 L1865.8,647.9 L1866.6,648.0 L1867.4,648.0 L1868.2,648.1 L1869.0,648.2 L1869.8,648.2 L1870.6,648.3 L1871.4,648.4 L1872.1,648.5 L1872.9,648.5 L1873.7,648.6 L1874.5,648.7 L1875.3,648.8 L1876.1,648.9 L1876.9,649.0 L1877.7,649.0 L1878.5,649.1 L1879.3,649.2 L1880.1,649.3 L1880.9,649.4 L1881.7,649.5 L1882.5,649.6 L1883.3,649.7 L1884.1,649.8 L1884.9,649.9 L1885.6,650.1 L1886.4,650.2 L1887.2,650.3 L1888.0,650.4 L1888.8,650.5 L1889.6,650.7 L1890.4,650.8 L1891.2,650.9 L1892.0,651.0 L1892.8,651.2 L1893.6,651.3 L1894.4,651.5 L1895.2,651.6 L1896.0,651.7 L1896.8,651.9 L1897.6,652.0 L1898.4,652.2 L1899.1,652.4 L1899.9,652.5 L1900.7,652.7 L1901.5,652.8 L1902.3,653.0 L1903.1,653.2 L1903.9,653.4 L1904.7,653.5 L1905.5,653.7 L1906.3,653.9 L1907.1,654.1 L1907.9,654.3 L1908.7,654.5 L1909.5,654.7 L1910.3,654.9 L1911.1,655.1 L1911.9,655.3 L1912.6,655.5 L1913.4,655.7 L1914.2,655.9 L1915.0,656.2 L1915.8,656.4 L1916.6,656.6 L1917.4,656.9 L1918.2,657.1 L1919.0,657.3 L1919.8,657.6 L1920.6,657.8 L1921.4,658.1 L1922.2,658.3 L1923.0,658.6 L1923.8,658.9 L1924.6,659.1 L1925.4,659.4 L1926.1,659.7 L1926.9,660.0 L1927.7,660.3 L1928.5,660.6 L1929.3,660.9 L1930.1,661.2 L1930.9,661.5 L1931.7,661.8 L1932.5,662.1 L1933.3,662.4 L1934.1,662.7 L1934.9,663.1 L1935.7,663.4 L1936.5,663.7 L1937.3,664.1 L1938.1,664.4 L1938.9,664.8 L1939.6,665.1 L1940.4,665.5 L1941.2,665.9 L1942.0,666.2 L1942.8,666.6 L1943.6,667.0 L1944.4,667.4 L1945.2,667.8 L1946.0,668.2 L1946.8,668.6 L1947.6,669.0 L1948.4,669.4 L1949.2,669.8 L1950.0,670.3 L1950.8,670.7 L1951.6,671.1 L1952.4,671.6 L1953.1,672.0 L1953.9,672.5 L1954.7,673.0 L1955.5,673.4 L1956.3,673.9 L1957.1,674.4 L1957.9,674.9 L1958.7,675.4 L1959.5,675.9 L1960.3,676.4 L1961.1,676.9 L1961.9,677.4 L1962.7,677.9 L1963.5,678.5 L1964.3,679.0 L1965.1,679.6 L1965.9,680.1 L1966.6,680.7 L1967.4,681.2 L1968.2,681.8 L1969.0,682.4 L1969.8,683.0 L1970.6,683.6 L1971.4,684.2 L1972.2,684.8 L1973.0,685.4 L1973.8,686.1 L1974.6,686.7 L1975.4,687.3 L1976.2,688.0 L1977.0,688.6 L1977.8,689.3 L1978.6,690.0 L1979.4,690.7 L1980.1,691.3 L1980.9,692.0 L1981.7,692.8 L1982.5,693.5 L1983.3,694.2 L1984.1,694.9 L1984.9,695.7 L1985.7,696.4 L1986.5,697.2 L1987.3,697.9 L1988.1,698.7 L1988.9,699.5 L1989.7,700.3 L1990.5,701.1 L1991.3,701.9 L1992.1,702.7 L1992.9,703.5 L1993.6,704.4 L1994.4,705.2 L1995.2,706.1 L1996.0,706.9 L1996.8,707.8 L1997.6,708.7 L1998.4,709.6 L1999.2,710.5 L2000.0,711.4 L2000.8,712.3 L2001.6,713.2 L2002.4,714.2 L2003.2,715.1 L2004.0,716.1 L2004.8,717.0 L2005.6,718.0 L2006.4,719.0 L2007.1,720.0 L2007.9,721.0 L2008.7,722.0 L2009.5,723.1 L2010.3,724.1 L2011.1,725.2 L2011.9,726.2 L2012.7,727.3 L2013.5,728.4 L2014.3,729.5 L2015.1,730.6 L2015.9,731.7 L2016.7,732.8 L2017.5,734.0 L2018.3,735.1 L2019.1,736.3 L2019.8,737.5 L2020.6,738.6 L2021.4,739.8 L2022.2,741.0 L2023.0,742.3 L2023.8,743.5 L2024.6,744.7 L2025.4,746.0 L2026.2,747.2 L2027.0,748.5 L2027.8,749.8 L2028.6,751.1 L2029.4,752.4 L2030.2,753.7 L2031.0,755.1 L2031.8,756.4 L2032.6,757.8 L2033.3,759.2 L2034.1,760.5 L2034.9,761.9 L2035.7,763.4 L2036.5,764.8 L2037.3,766.2 L2038.1,767.7 L2038.9,769.1 L2039.7,770.6 L2040.5,772.1 L2041.3,773.6 L2042.1,775.1 L2042.9,776.6 L2043.7,778.2 L2044.5,779.7 L2044.6,780.0" fill="none" stroke="#0000ff" stroke-width="4.2" stroke-linejoin="round"/>
<path d="M492.0,783.0 L532.3,780.8 L572.6,778.7 L612.9,776.5 L653.2,774.3 L693.5,772.2 L733.9,770.0 L774.2,767.8 L814.5,765.7 L854.8,763.5 L895.1,761.4 L935.4,759.2 L975.7,757.0 L1016.0,754.9 L1056.3,752.7 L1096.7,750.6 L1137.0,748.4 L1177.3,746.3 L1217.6,744.1 L1257.9,742.0 L1298.2,739.9 L1338.5,737.7 L1378.8,735.6 L1419.1,733.5 L1459.4,731.3 L1499.8,729.2 L1540.1,727.1 L1580.4,725.0 L1620.7,722.9 L1661.0,721.0 L1701.3,719.2 L1709.4,718.8 L1710.2,718.8 L1711.0,718.8 L1711.7,718.7 L1712.5,718.7 L1713.3,718.7 L1714.1,718.6 L1714.9,718.6 L1715.7,718.6 L1716.5,718.5 L1717.3,718.5 L1718.1,718.5 L1718.9,718.4 L1719.7,718.4 L1720.5,718.4 L1721.3,718.3 L1722.1,718.3 L1722.9,718.3 L1723.7,718.3 L1724.4,718.2 L1725.2,718.2 L1726.0,718.2 L1726.8,718.1 L1727.6,718.1 L1728.4,718.1 L1729.2,718.1 L1730.0,718.0 L1730.8,718.0 L1731.6,718.0 L1732.4,717.9 L1733.2,717.9 L1734.0,717.9 L1734.8,717.9 L1735.6,717.8 L1736.4,717.8 L1737.2,717.8 L1737.9,717.7 L1738.7,717.7 L1739.5,717.7 L1740.3,717.7 L1741.1,717.6 L1741.9,717.6 L1742.7,717.6 L1743.5,717.6 L1744.3,717.5 L1745.1,717.5 L1745.9,717.5 L1746.7,717.5 L1747.5,717.4 L1748.3,717.4 L1749.1,717.4 L1749.9,717.4 L1750.7,717.3 L1751.4,717.3 L1752.2,717.3 L1753.0,717.3 L1753.8,717.3 L1754.6,717.2 L1755.4,717.2 L1756.2,717.2 L1757.0,717.2 L1757.8,717.1 L1758.6,717.1 L1759.4,717.1 L1760.2,717.1 L1761.0,717.1 L1761.8,717.0 L1762.6,717.0 L1763.4,717.0 L1764.2,717.0 L1764.9,717.0 L1765.7,717.0 L1766.5,716.9 L1767.3,716.9 L1768.1,716.9 L1768.9,716.9 L1769.7,716.9 L1770.5,716.9 L1771.3,716.8 L1772.1,716.8 L1772.9,716.8 L1773.7,716.8 L1774.5,716.8 L1775.3,716.8 L1776.1,716.8 L1776.9,716.7 L1777.7,716.7 L1778.4,716.7 L1779.2,716.7 L1780.0,716.7 L1780.8,716.7 L1781.6,716.7 L1782.4,716.7 L1783.2,716.6 L1784.0,716.6 L1784.8,716.6 L1785.6,716.6 L1786.4,716.6 L1787.2,716.6 L1788.0,716.6 L1788.8,716.6 L1789.6,716.6 L1790.4,716.6 L1791.2,716.6 L1791.9,716.6 L1792.7,716.6 L1793.5,716.6 L1794.3,716.5 L1795.1,716.5 L1795.9,716.5 L1796.7,716.5 L1797.5,716.5 L1798.3,716.5 L1799.1,716.5 L1799.9,716.5 L1800.7,716.5 L1801.5,716.5 L1802.3,716.5 L1803.1,716.5 L1803.9,716.5 L1804.7,716.5 L1805.4,716.6 L1806.2,716.6 L1807.0,716.6 L1807.8,716.6 L1808.6,716.6 L1809.4,716.6 L1810.2,716.6 L1811.0,716.6 L1811.8,716.6 L1812.6,716.6 L1813.4,716.6 L1814.2,716.6 L1815.0,716.6 L1815.8,716.7 L1816.6,716.7 L1817.4,716.7 L1818.2,716.7 L1818.9,716.7 L1819.7,716.7 L1820.5,716.7 L1821.3,716.8 L1822.1,716.8 L1822.9,716.8 L1823.7,716.8 L1824.5,716.8 L1825.3,716.9 L1826.1,716.9 L1826.9,716.9 L1827.7,716.9 L1828.5,717.0 L1829.3,717.0 L1830.1,717.0 L1830.9,717.0 L1831.7,717.1 L1832.4,717.1 L1833.2,717.1 L1834.0,717.2 L1834.8,717.2 L1835.6,717.2 L1836.4,717.2 L1837.2,717.3 L1838.0,717.3 L1838.8,717.4 L1839.6,717.4 L1840.4,717.4 L1841.2,717.5 L1842.0,717.5 L1842.8,717.6 L1843.6,717.6 L1844.4,717.6 L1845.2,717.7 L1845.9,717.7 L1846.7,717.8 L1847.5,717.8 L1848.3,717.9 L1849.1,717.9 L1849.9,718.0 L1850.7,718.0 L1851.5,718.1 L1852.3,718.1 L1853.1,718.2 L1853.9,718.3 L1854.7,718.3 L1855.5,718.4 L1856.3,718.4 L1857.1,718.5 L1857.9,718.6 L1858.7,718.6 L1859.4,718.7 L1860.2,718.8 L1861.0,718.8 L1861.8,718.9 L1862.6,719.0 L1863.4,719.1 L1864.2,719.1 L1865.0,719.2 L1865.8,719.3 L1866.6,719.4 L1867.4,719.5 L1868.2,719.5 L1869.0,719.6 L1869.8,719.7 L1870.6,719.8 L1871.4,719.9 L1872.1,720.0 L1872.9,720.1 L1873.7,720.2 L1874.5,720.3 L1875.3,720.4 L1876.1,720.5 L1876.9,720.6 L1877.7,720.7 L1878.5,720.8 L1879.3,720.9 L1880.1,721.0 L1880.9,721.1 L1881.7,721.2 L1882.5,721.3 L1883.3,721.5 L1884.1,721.6 L1884.9,721.7 L1885.6,721.8 L1886.4,722.0 L1887.2,722.1 L1888.0,722.2 L1888.8,722.3 L1889.6,722.5 L1890.4,722.6 L1891.2,722.8 L1892.0,722.9 L1892.8,723.0 L1893.6,723.2 L1894.4,723.3 L1895.2,723.5 L1896.0,723.6 L1896.8,723.8 L1897.6,724.0 L1898.4,724.1 L1899.1,724.3 L1899.9,724.4 L1900.7,724.6 L1901.5,724.8 L1902.3,725.0 L1903.1,725.1 L1903.9,725.3 L1904.7,725.5 L1905.5,725.7 L1906.3,725.9 L1907.1,726.1 L1907.9,726.2 L1908.7,726.4 L1909.5,726.6 L1910.3,726.8 L1911.1,727.0 L1911.9,727.3 L1912.6,727.5 L1913.4,727.7 L1914.2,727.9 L1915.0,728.1 L1915.8,728.3 L1916.6,728.6 L1917.4,728.8 L1918.2,729.0 L1919.0,729.3 L1919.8,729.5 L1920.6,729.7 L1921.4,730.0 L1922.2,730.2 L1923.0,730.5 L1923.8,730.8 L1924.6,731.0 L1925.4,731.3 L1926.1,731.5 L1926.9,731.8 L1927.7,732.1 L1928.5,732.4 L1929.3,732.7 L1930.1,732.9 L1930.9,733.2 L1931.7,733.5 L1932.5,733.8 L1933.3,734.1 L1934.1,734.4 L1934.9,734.7 L1935.7,735.1 L1936.5,735.4 L1937.3,735.7 L1938.1,736.0 L1938.9,736.4 L1939.6,736.7 L1940.4,737.0 L1941.2,737.4 L1942.0,737.7 L1942.8,738.1 L1943.6,738.5 L1944.4,738.8 L1945.2,739.2 L1946.0,739.6 L1946.8,739.9 L1947.6,740.3 L1948.4,740.7 L1949.2,741.1 L1950.0,741.5 L1950.8,741.9 L1951.6,742.3 L1952.4,742.7 L1953.1,743.1 L1953.9,743.6 L1954.7,744.0 L1955.5,744.4 L1956.3,744.9 L1957.1,745.3 L1957.9,745.8 L1958.7,746.2 L1959.5,746.7 L1960.3,747.2 L1961.1,747.6 L1961.9,748.1 L1962.7,748.6 L1963.5,749.1 L1964.3,749.6 L1965.1,750.1 L1965.9,750.6 L1966.6,751.1 L1967.4,751.7 L1968.2,752.2 L1969.0,752.7 L1969.8,753.3 L1970.6,753.8 L1971.4,754.4 L1972.2,754.9 L1973.0,755.5 L1973.8,756.1 L1974.6,756.6 L1975.4,757.2 L1976.2,757.8 L1977.0,758.4 L1977.8,759.0 L1978.6,759.7 L1979.4,760.3 L1980.1,760.9 L1980.9,761.5 L1981.7,762.2 L1982.5,762.8 L1983.3,763.5 L1984.1,764.2 L1984.9,764.8 L1985.7,765.5 L1986.5,766.2 L1987.3,766.9 L1988.1,767.6 L1988.9,768.3 L1989.7,769.1 L1990.5,769.8 L1991.3,770.5 L1992.1,771.3 L1992.9,772.0 L1993.6,772.8 L1994.4,773.6 L1995.2,774.3 L1996.0,775.1 L1996.8,775.9 L1997.6,776.7 L1998.4,777.5 L1999.2,778.4 L2000.0,779.2 L2000.8,780.0 L2001.6,780.9 L2001.9,781.2" fill="none" stroke="#0000ff" stroke-width="4.2" stroke-linejoin="round"/>
<circle cx="1864.5" cy="227.5" r="17.75" fill="none" stroke="#ff00ff" stroke-width="5.5"/>
<circle cx="1863.4" cy="365.4" r="17.75" fill="none" stroke="#ff00ff" stroke-width="5.5"/>
<circle cx="1855.5" cy="505.4" r="17.75" fill="none" stroke="#ff00ff" stroke-width="5.5"/>
<circle cx="1831.1" cy="646.7" r="17.75" fill="none" stroke="#ff00ff" stroke-width="5.5"/>
<circle cx="1801.2" cy="716.6" r="17.75" fill="none" stroke="#ff00ff" stroke-width="5.5"/>
<g class="t" font-size="58.4" fill="#262626" text-anchor="middle">
<text transform="translate(490.0,862) scale(1,1.03)">0</text>
<text transform="translate(691.5,862) scale(1,1.03)">5</text>
<text transform="translate(893.1,862) scale(1,1.03)">10</text>
<text transform="translate(1094.7,862) scale(1,1.03)">15</text>
<text transform="translate(1296.2,862) scale(1,1.03)">20</text>
<text transform="translate(1497.8,862) scale(1,1.03)">25</text>
<text transform="translate(1699.3,862) scale(1,1.03)">30</text>
<text transform="translate(1900.9,862) scale(1,1.03)">35</text>
<text transform="translate(2102.4,862) scale(1,1.03)">40</text>
<text transform="translate(2303.9,862) scale(1,1.03)">45</text>
</g>
<g class="t" font-size="58.4" fill="#262626" text-anchor="end">
<text transform="translate(467.5,805.5) scale(1,1.03)">0</text>
<text transform="translate(467.5,669.9) scale(1,1.03)">200</text>
<text transform="translate(467.5,534.3) scale(1,1.03)">400</text>
<text transform="translate(467.5,398.7) scale(1,1.03)">600</text>
<text transform="translate(467.5,263.1) scale(1,1.03)">800</text>
<text transform="translate(467.5,127.5) scale(1,1.03)">1000</text>
</g>
<text class="t" font-size="63.7" fill="#262626" text-anchor="middle" transform="translate(307.8,402.5) rotate(-90) scale(1,1.035)">Power (W)</text>
<g clip-path="url(#clipb)"><text class="t" font-size="63.7" fill="#262626" text-anchor="middle" transform="translate(1399,943) scale(1,1.035)">Voltage (V)</text></g>
<text class="t" font-size="60" fill="#ff0000" transform="translate(1888,120.9) scale(1,1.035)">1 kW/m<tspan font-size="48.5" dx="3" dy="-26">2</tspan></text>
<text class="t" font-size="60" fill="#000" transform="translate(1888,260.7) scale(1,1.035)">0.8 kW/m<tspan font-size="48.5" dx="3" dy="-26">2</tspan></text>
<text class="t" font-size="60" fill="#000" transform="translate(1888,400.1) scale(1,1.035)">0.6 kW/m<tspan font-size="48.5" dx="3" dy="-26">2</tspan></text>
<text class="t" font-size="60" fill="#000" transform="translate(1888,540.3) scale(1,1.035)">0.4 kW/m<tspan font-size="48.5" dx="3" dy="-26">2</tspan></text>
<text class="t" font-size="60" fill="#000" transform="translate(1888,675.1) scale(1,1.035)">0.2 kW/m<tspan font-size="48.5" dx="3" dy="-26">2</tspan></text>
<text class="t" font-size="60" fill="#000" transform="translate(1888,746.7) scale(1,1.035)">0.1 kW/m<tspan font-size="48.5" dx="3" dy="-26">2</tspan></text>
</svg></body></html>
